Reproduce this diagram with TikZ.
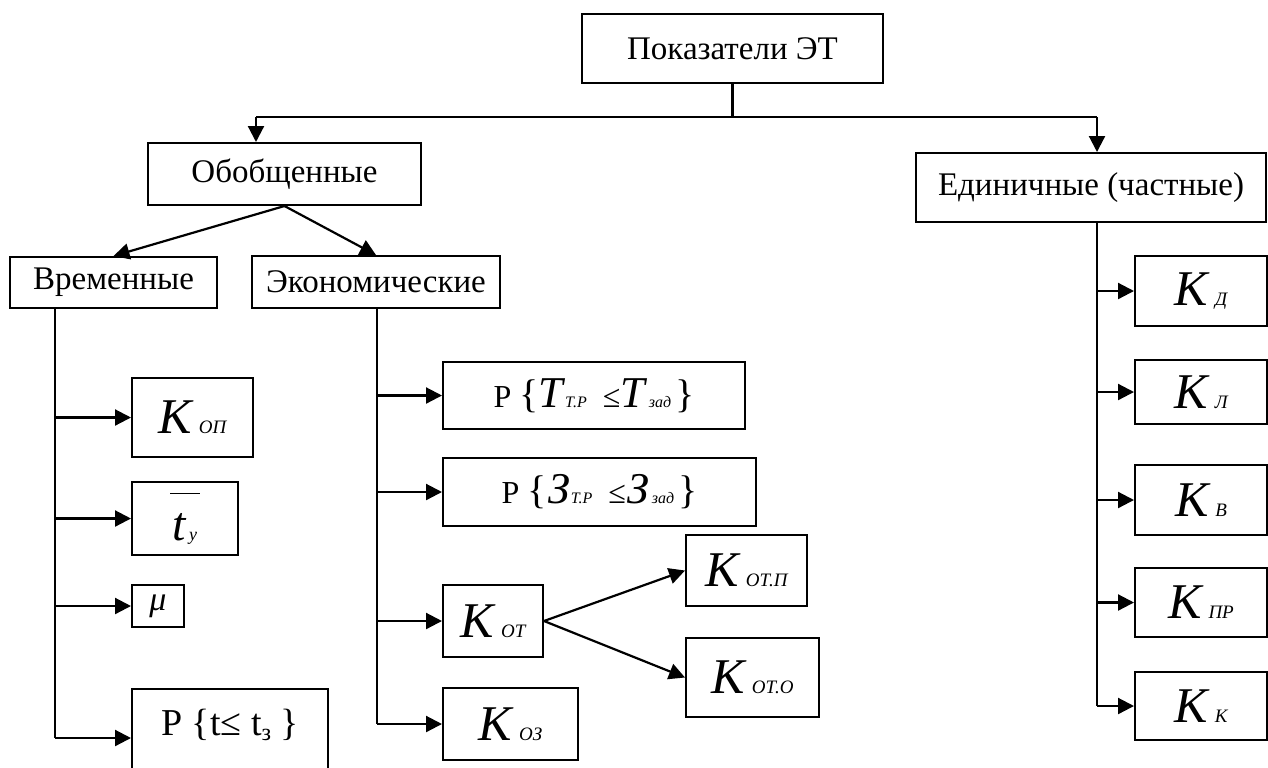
\documentclass[tikz,border=0pt]{standalone}
\usepackage{fontspec}
\setmainfont{Liberation Serif}
\usetikzlibrary{arrows.meta}

\newcommand{\Kc}[1]{{\fontsize{25}{25}\selectfont\itshape K}\hspace{3.5pt}{\fontsize{9.5}{9.5}\selectfont\itshape #1}}
\newcommand{\Sm}[1]{{\fontsize{8}{8}\selectfont\itshape #1}}
\newcommand{\Bg}[1]{{\fontsize{22}{22}\selectfont\itshape #1}}
\newcommand{\Md}[1]{{\fontsize{16}{16}\selectfont #1}}

\begin{document}
\begin{tikzpicture}[x=0.5pt,y=-0.5pt,
  main node/.style={draw,line width=1pt,inner sep=0pt,font=\fontsize{16.5}{18}\selectfont},
  arr/.style={line width=1.1pt,-{Triangle[length=8pt,width=8pt]}},
  ln/.style={line width=1.1pt,-}]

\useasboundingbox (0,0) rectangle (1268,767);

\node[main node,minimum width=150.5pt,minimum height=34.5pt] (top) at (732.5,48.5) {Показатели ЭТ};
\node[main node,minimum width=136.5pt,minimum height=31pt] (gen) at (284.5,174) {Обобщенные};
\node[main node,minimum width=175pt,minimum height=34.5pt] (unit) at (1091,187.5) {Единичные (частные)};
\node[main node,minimum width=103.5pt,minimum height=25.5pt] (time) at (113.5,282.5) {Временные};
\node[main node,minimum width=124pt,minimum height=26pt] (econ) at (376,282) {Экономические};

\node[main node,minimum width=60.5pt,minimum height=39.5pt] (kop) at (192.5,417.5) {\Kc{ОП}};
\node[main node,minimum width=53pt,minimum height=36.5pt,align=center] (tbar) at (185,518.5)
  {\rule{15pt}{0.8pt}\\[5pt]{\fontsize{24}{24}\selectfont\itshape t}\hspace{1.5pt}{\fontsize{9}{9}\selectfont\itshape y}};
\node[main node,minimum width=26pt,minimum height=21pt] (mu) at (158,606) {{\fontsize{17}{17}\selectfont\itshape μ}};
\node[main node,minimum width=98pt,anchor=north,text height=23pt,text depth=30pt] (ptt) at (230,688)
  {{\fontsize{19}{19}\selectfont P \{t≤ t\raisebox{-2.5pt}{\fontsize{12}{12}\selectfont з} \}}};

\node[main node,minimum width=151pt,minimum height=33.5pt] (pT) at (594,395.5)
  {\Md{P} {\fontsize{20}{20}\selectfont\{}\Bg{T}\hspace{1pt}\Sm{Т.Р}\hspace{8pt}\Md{≤}\Bg{T}\hspace{2pt}\Sm{зад}\hspace{2pt}{\fontsize{20}{20}\selectfont\}}};
\node[main node,minimum width=156.5pt,minimum height=34pt] (pZ) at (599.5,492)
  {\Md{P} {\fontsize{20}{20}\selectfont\{}\hspace{1pt}\Bg{З}\Sm{Т.Р}\hspace{8pt}\Md{≤}\hspace{1pt}\Bg{З}\hspace{1pt}\Sm{зад}\hspace{2pt}{\fontsize{20}{20}\selectfont\}}};
\node[main node,minimum width=50pt,minimum height=36pt] (kot) at (493,621) {\Kc{ОТ}};
\node[main node,minimum width=67.5pt,minimum height=36pt] (koz) at (510.5,724) {\Kc{ОЗ}};
\node[main node,minimum width=60.5pt,minimum height=35.5pt] (kotp) at (746.5,570.5) {\Kc{ОТ.П}};
\node[main node,minimum width=66.5pt,minimum height=39.5pt] (koto) at (752.5,677.5) {\Kc{ОТ.О}};

\node[main node,minimum width=66pt,minimum height=35pt] (kd) at (1201,291) {\Kc{Д}};
\node[main node,minimum width=66pt,minimum height=32pt] (kl) at (1201,392) {\Kc{Л}};
\node[main node,minimum width=66pt,minimum height=35pt] (kv) at (1201,500) {\Kc{В}};
\node[main node,minimum width=66pt,minimum height=34.5pt] (kpr) at (1201,602.5) {\Kc{ПР}};
\node[main node,minimum width=66pt,minimum height=34pt] (kk) at (1201,706) {\Kc{К}};

\coordinate (j0) at (732.5,117);
\coordinate (j1) at (256,117);
\coordinate (j2) at (1097,117);
\coordinate (tl0) at (55,308);
\coordinate (tl1) at (55,738);
\coordinate (el0) at (377,308);
\coordinate (el1) at (377,724);
\coordinate (ul0) at (1097,222);
\coordinate (ul1) at (1097,706);

\path[] (top) [ln] edge node [] {} (j0);
\path[] (j1) [ln] edge node [] {} (j2);
\path[] (j1) [arr] edge node [] {} (j1 |- gen.north);
\path[] (j2) [arr] edge node [] {} (j2 |- unit.north);
\path[] (gen.south) [arr] edge node [] {} (time.north);
\path[] (gen.south) [arr] edge node [] {} (econ.north);

\path[] (tl0) [ln] edge node [] {} (tl1);
\path[] (tl0 |- kop) [arr] edge node [] {} (kop);
\path[] (tl0 |- tbar) [arr] edge node [] {} (tbar);
\path[] (tl0 |- mu) [arr] edge node [] {} (mu);
\path[] (tl1) [arr] edge node [] {} (tl1 -| ptt.west);

\path[] (el0) [ln] edge node [] {} (el1);
\path[] (el0 |- pT) [arr] edge node [] {} (pT);
\path[] (el0 |- pZ) [arr] edge node [] {} (pZ);
\path[] (el0 |- kot) [arr] edge node [] {} (kot);
\path[] (el1) [arr] edge node [] {} (koz);
\path[] (kot.east) [arr] edge node [] {} (kotp.west);
\path[] (kot.east) [arr] edge node [] {} (koto.west);

\path[] (ul0) [ln] edge node [] {} (ul1);
\path[] (ul0 |- kd) [arr] edge node [] {} (kd);
\path[] (ul0 |- kl) [arr] edge node [] {} (kl);
\path[] (ul0 |- kv) [arr] edge node [] {} (kv);
\path[] (ul0 |- kpr) [arr] edge node [] {} (kpr);
\path[] (ul1) [arr] edge node [] {} (kk);

\end{tikzpicture}
\end{document}
